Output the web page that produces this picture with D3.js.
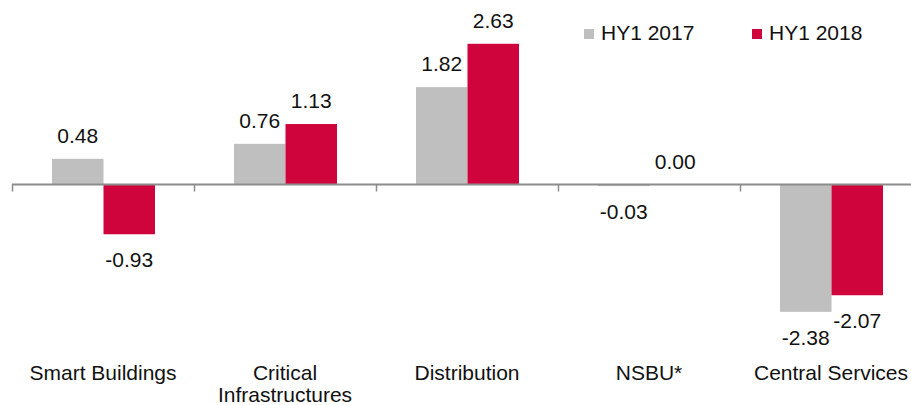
<!DOCTYPE html>
<html>
<head>
<meta charset="utf-8">
<script src="https://cdn.jsdelivr.net/npm/d3@7"></script>
<style>
  body { margin: 0; background: #fff; }
  text { font-family: "Liberation Sans", Arial, Helvetica, sans-serif; fill: #111; }
</style>
</head>
<body>
<svg id="viz"></svg>
<script>
var width = 911;
var height = 405;

// data
var categories = ["Smart Buildings", "Critical Infrastructures", "Distribution", "NSBU*", "Central Services"];
var categoryLines = [["Smart Buildings"], ["Critical", "Infrastructures"], ["Distribution"], ["NSBU*"], ["Central Services"]];
var seriesNames = ["HY1 2017", "HY1 2018"];
var hy2017 = [0.48, 0.76, 1.82, -0.03, -2.38];
var hy2018 = [-0.93, 1.13, 2.63, 0.00, -2.07];
var colors = ["#bfbfbf", "#d0043c"];

var svg = d3.select("#viz").attr("width", width).attr("height", height);

var x = d3.scaleBand().domain(categories).range([12, 12 + 5 * 182]);
var xs = d3.scaleBand().domain(seriesNames).range([40, 143]);
var y = d3.scaleLinear().domain([-3, 3]).range([345, 24]);

var rows = [];
categories.forEach(function(c, i) {
    rows.push({cat: c, s: seriesNames[0], v: hy2017[i]});
    rows.push({cat: c, s: seriesNames[1], v: hy2018[i]});
});

// bars
svg.append("g").selectAll("rect")
    .data(rows)
    .enter()
    .append("rect")
    .attr("x", function(d) { return x(d.cat) + xs(d.s); })
    .attr("width", xs.bandwidth())
    .attr("y", function(d) { return y(Math.max(0, d.v)); })
    .attr("height", function(d) { return Math.max(Math.abs(y(d.v) - y(0)), d.v === 0 ? 0 : 1); })
    .attr("fill", function(d) { return colors[seriesNames.indexOf(d.s)]; });

// zero axis with ticks between categories
var axis = svg.append("g");
axis.append("line")
    .attr("x1", 12).attr("x2", width)
    .attr("y1", y(0)).attr("y2", y(0))
    .attr("stroke", "#8c8c8c").attr("stroke-width", 2);
axis.selectAll("line.tick")
    .data(categories)
    .enter()
    .append("line")
    .attr("class", "tick")
    .attr("x1", function(d) { return x(d) + 0.5; })
    .attr("x2", function(d) { return x(d) + 0.5; })
    .attr("y1", y(0)).attr("y2", y(0) + 7)
    .attr("stroke", "#8c8c8c").attr("stroke-width", 1.5);

// value labels
svg.append("g").selectAll("text")
    .data(rows)
    .enter()
    .append("text")
    .attr("x", function(d) { return x(d.cat) + xs(d.s) + xs.bandwidth() / 2; })
    .attr("y", function(d) { return d.v >= 0 ? y(d.v) - 16 : y(d.v) + 33; })
    .attr("text-anchor", "middle")
    .style("font-size", "21px")
    .text(function(d) { return d.v.toFixed(2); });

// category labels
var cl = svg.append("g").selectAll("text")
    .data(categories)
    .enter()
    .append("text")
    .attr("text-anchor", "middle")
    .style("font-size", "21px")
    .attr("x", function(d) { return x(d) + x.bandwidth() / 2; })
    .attr("y", 380);
cl.each(function(d, i) {
    var t = d3.select(this);
    categoryLines[i].forEach(function(line, j) {
        t.append("tspan")
            .attr("x", x(d) + x.bandwidth() / 2)
            .attr("y", 380 + j * 22)
            .text(line);
    });
});

// legend
var legendX = [584, 752];
var legend = svg.append("g").selectAll("g")
    .data(seriesNames)
    .enter()
    .append("g")
    .attr("transform", function(d, i) { return "translate(" + legendX[i] + ",29)"; });
legend.append("rect")
    .attr("width", 10).attr("height", 10)
    .attr("fill", function(d, i) { return colors[i]; });
legend.append("text")
    .attr("x", 17).attr("y", 10.5)
    .style("font-size", "21px")
    .text(function(d) { return d; });
</script>
</body>
</html>
